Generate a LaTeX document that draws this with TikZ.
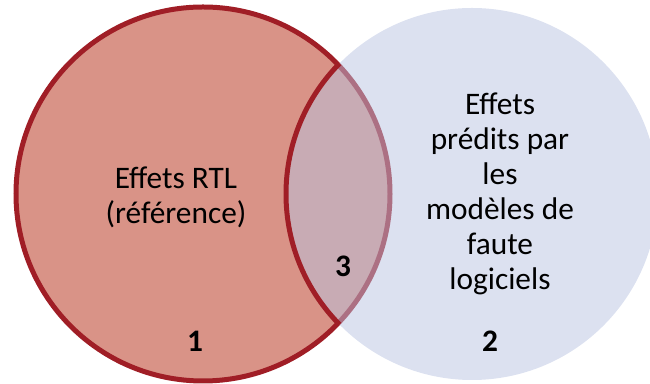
\documentclass[tikz,border=0pt]{standalone}
\usepackage{fontspec}
\setmainfont{Carlito}
\definecolor{rtlfill}{RGB}{217,147,135}
\definecolor{rtlline}{RGB}{160,30,38}
\definecolor{modfill}{RGB}{185,195,225}
\tikzset{
  lbl/.style={font=\fontsize{23.5}{26.25}\selectfont, align=center, inner sep=0pt},
  num/.style={font=\fontsize{23.5}{26.25}\selectfont\bfseries, inner sep=0pt}
}
\begin{document}
\begin{tikzpicture}[x=0.75pt,y=0.75pt]
\useasboundingbox (0,0) rectangle (650,384);
\clip (0,0) rectangle (650,384);
% left set: RTL
\fill[rtlfill] (203,190) circle (187);
\draw[rtlline, line width=3.75pt] (203,190) circle (187);
% right set: fault models (half transparent)
\fill[modfill, opacity=0.5] (472,190) circle (186);
\begin{scope}
\clip (203,190) circle (189);
\draw[rtlline, line width=3.75pt] (472,190) circle (186);
\end{scope}
% labels
\node[lbl] (rtl) at (176,187) {Effets RTL\\(référence)};
\node[lbl] (mod) at (500,190) {Effets\\prédits par\\les\\modèles de\\faute\\logiciels};
\node[num] (n1) at (195,43) {1};
\node[num] (n2) at (490,43) {2};
\node[num] (n3) at (343,118) {3};
\end{tikzpicture}
\end{document}
